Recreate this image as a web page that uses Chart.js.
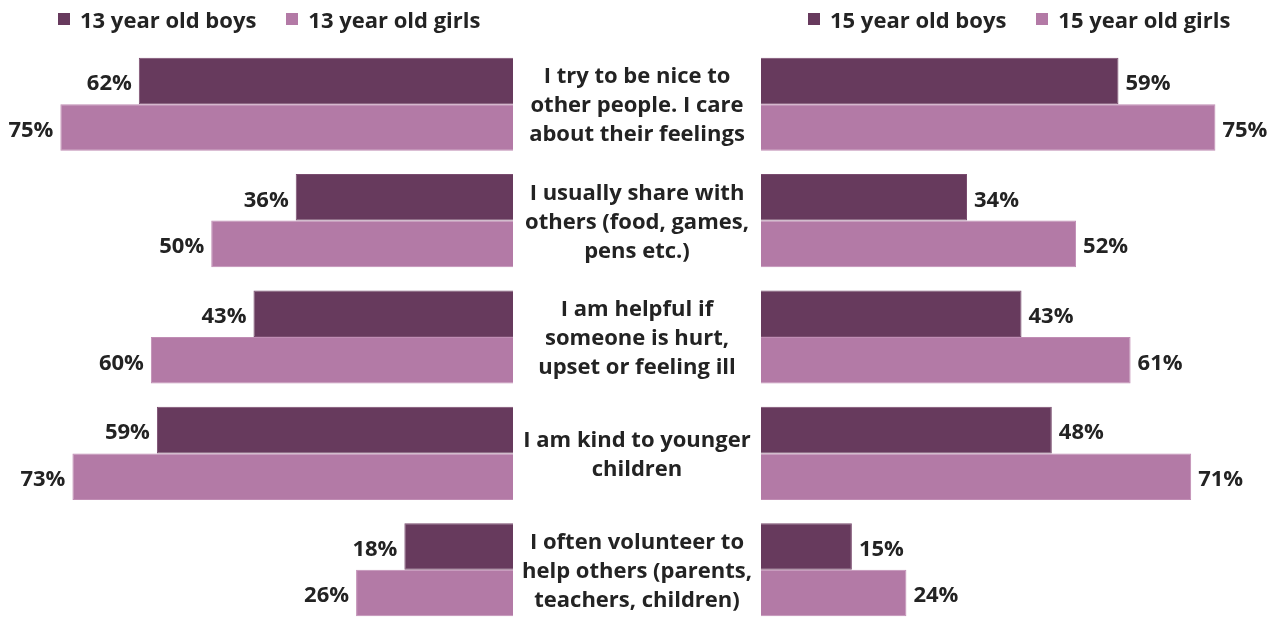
<!DOCTYPE html>
<html>
<head>
<meta charset="utf-8">
<script src="https://cdn.jsdelivr.net/npm/chart.js@4.4.1/dist/chart.umd.min.js"></script>
<style>
  html, body { margin: 0; padding: 0; background: #fff; }
  #wrap { position: relative; width: 1280px; height: 618px; overflow: hidden; }
  .box { position: absolute; top: 0; height: 630px; }
  #leftBox { left: 0; width: 761px; }
  #rightBox { left: 761px; width: 515px; }
  .legend { position: absolute; top: 4px; display: flex; gap: 30px;
            font: 700 22px "Open Sans", sans-serif; color: #232323; }
  .legend span.item { display: flex; align-items: center; white-space: nowrap; }
  .legend i { display: inline-block; width: 12px; height: 12px; margin-right: 10px; }
</style>
</head>
<body>
<div id="wrap">
  <div class="box" id="leftBox"><canvas id="left"></canvas></div>
  <div class="box" id="rightBox"><canvas id="right"></canvas></div>
  <div class="legend" id="legendLeft" style="left:58px"></div>
  <div class="legend" id="legendRight" style="left:808px"></div>
</div>
<script>
const statements = [
  ['I try to be nice to', 'other people. I care', 'about their feelings'],
  ['I usually share with', 'others (food, games,', 'pens etc.)'],
  ['I am helpful if', 'someone is hurt,', 'upset or feeling ill'],
  ['I am kind to younger', 'children'],
  ['I often volunteer to', 'help others (parents,', 'teachers, children)']
];
const boys13 = [62, 36, 43, 59, 18];
const girls13 = [75, 50, 60, 73, 26];
const boys15 = [59, 34, 43, 48, 15];
const girls15 = [75, 52, 61, 71, 24];

const seriesNames13 = ['13 year old boys', '13 year old girls'];
const seriesNames15 = ['15 year old boys', '15 year old girls'];

const DARK = '#673a5d';
const LIGHT = '#b37aa6';
const TEXT = '#232323';
const FONT = '700 22px "Open Sans", sans-serif';

// percentage labels at the end of each bar
const valueLabels = {
  id: 'valueLabels',
  afterDatasetsDraw(chart) {
    const ctx = chart.ctx;
    const reversed = chart.options.scales.x.reverse;
    ctx.save();
    ctx.font = FONT;
    ctx.fillStyle = TEXT;
    ctx.textBaseline = 'middle';
    chart.data.datasets.forEach((ds, di) => {
      chart.getDatasetMeta(di).data.forEach((bar, i) => {
        const txt = ds.data[i] + '%';
        if (reversed) {
          ctx.textAlign = 'right';
          ctx.fillText(txt, bar.x - 7, bar.y + 3);
        } else {
          ctx.textAlign = 'left';
          ctx.fillText(txt, bar.x + 7, bar.y + 3);
        }
      });
    });
    ctx.restore();
  }
};

// statement text in the gap between the two panels
const centerLabels = {
  id: 'centerLabels',
  afterDraw(chart) {
    const ctx = chart.ctx;
    const y = chart.scales.y;
    const cx = chart.chartArea.right + 124;
    const lh = 29;
    ctx.save();
    ctx.font = FONT;
    ctx.fillStyle = TEXT;
    ctx.textAlign = 'center';
    ctx.textBaseline = 'middle';
    chart.data.labels.forEach((lines, i) => {
      const cy = y.getPixelForValue(i) + 2;
      const top = cy - (lines.length - 1) * lh / 2;
      lines.forEach((ln, k) => ctx.fillText(ln, cx, top + k * lh));
    });
    ctx.restore();
  }
};

function makeDatasets(names, boys, girls) {
  return [
    { label: names[0], data: boys, backgroundColor: DARK, borderColor: '#7a4c6f', borderWidth: 1 },
    { label: names[1], data: girls, backgroundColor: LIGHT, borderColor: '#c08db4', borderWidth: 1 }
  ];
}

function makeOptions(reverse, padRight) {
  return {
    indexAxis: 'y',
    responsive: true,
    maintainAspectRatio: false,
    animation: false,
    layout: { padding: { top: 46, bottom: 2, left: 0, right: padRight } },
    datasets: { bar: { categoryPercentage: 0.8, barPercentage: 1.0 } },
    scales: {
      x: { min: 0, max: 85, reverse: reverse, display: false },
      y: { display: false }
    },
    plugins: { legend: { display: false }, tooltip: { enabled: false } }
  };
}

new Chart(document.getElementById('left'), {
  type: 'bar',
  data: { labels: statements, datasets: makeDatasets(seriesNames13, boys13, girls13) },
  options: makeOptions(true, 248),
  plugins: [valueLabels, centerLabels]
});

new Chart(document.getElementById('right'), {
  type: 'bar',
  data: { labels: statements, datasets: makeDatasets(seriesNames15, boys15, girls15) },
  options: makeOptions(false, 0),
  plugins: [valueLabels]
});

// HTML legends built from the series names
function buildLegend(el, names) {
  [DARK, LIGHT].forEach((c, i) => {
    const item = document.createElement('span');
    item.className = 'item';
    item.innerHTML = '<i style="background:' + c + '"></i>' + names[i];
    el.appendChild(item);
  });
}
buildLegend(document.getElementById('legendLeft'), seriesNames13);
buildLegend(document.getElementById('legendRight'), seriesNames15);
</script>
</body>
</html>
